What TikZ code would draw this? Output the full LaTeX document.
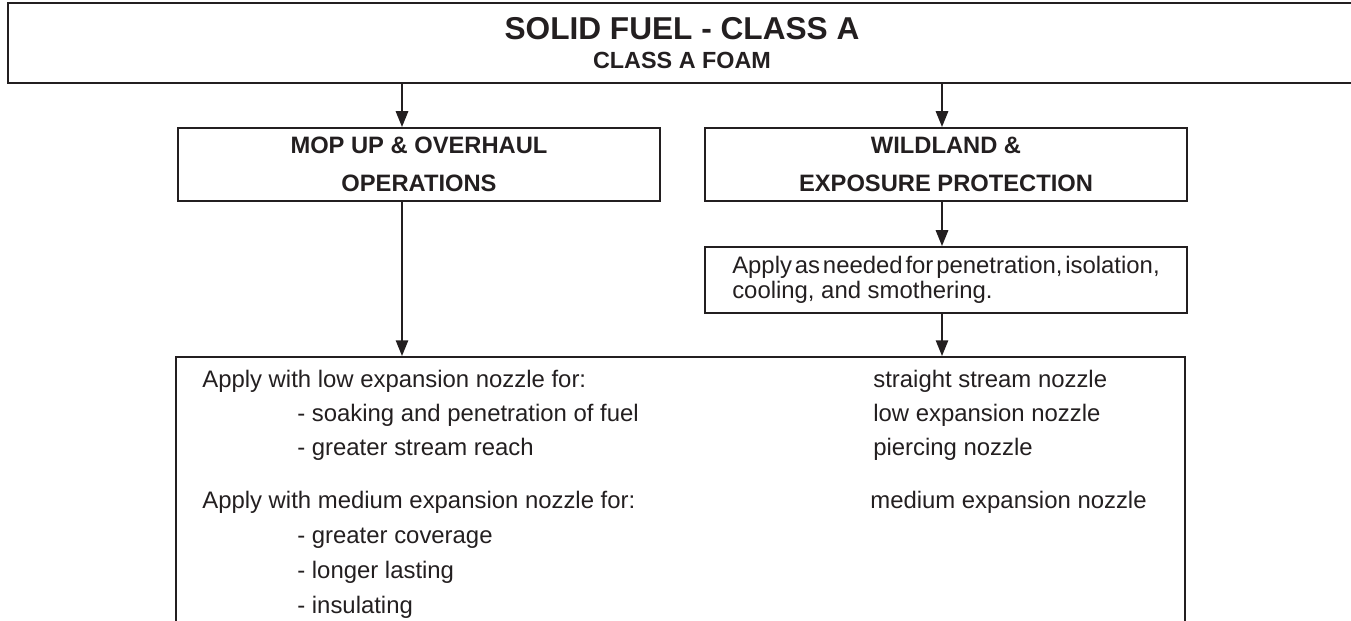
\documentclass[tikz,border=0pt]{standalone}
\usepackage{fontspec}
\setmainfont{Liberation Sans}
\usetikzlibrary{arrows.meta}
\definecolor{ink}{HTML}{231F20}

\begin{document}
\begin{tikzpicture}
[x=0.02cm,y=-0.02cm,
  boxDecorate/.style={shape=rectangle,draw=ink,line width=1.1pt,inner sep=0pt,text=ink},
  arrowDecorate/.style={-{Triangle[width=7pt,length=9pt]},draw=ink,fill=ink,line width=1.1pt},
  headDecorate/.style={font=\fontsize{13.5}{21.6}\selectfont\bfseries,align=center},
  textDecorate/.style={font=\fontsize{13.6}{16}\selectfont,text=ink,inner sep=0pt,anchor=base west}]
\useasboundingbox (0,0) rectangle (1351,621);
\clip (0,0) rectangle (1351,621);
%% boxes
\node (title) at (682,43) [boxDecorate,minimum width=26.96cm,minimum height=1.6cm,
  align=center,font=\fontsize{13.3}{15.8}\selectfont\bfseries]
  {{\fontsize{18}{15.8}\selectfont SOLID FUEL - CLASS A}\\[1pt]CLASS A FOAM};
\node (mop) at (419,164.5) [boxDecorate,headDecorate,minimum width=9.64cm,minimum height=1.46cm]
  {MOP UP \& OVERHAUL\\OPERATIONS};
\node (wild) at (946,164.5) [boxDecorate,headDecorate,minimum width=9.64cm,minimum height=1.46cm]
  {WILDLAND \&\\EXPOSURE PROTECTION};
\node (apply) at (946,280) [boxDecorate,minimum width=9.64cm,minimum height=1.32cm,
  align=left,font=\fontsize{13.6}{14.4}\selectfont]
  {{\spaceskip=0.12em Apply as needed for penetration, isolation,}\\cooling, and smothering.};
\node (big) at (680.5,508.5) [boxDecorate,minimum width=20.18cm,minimum height=6.06cm] {};
%% texts in the big box
\foreach \name/\x/\y/\txt in {
  a1/202/387/Apply with low expansion nozzle for:,
  a2/297/421/- soaking and penetration of fuel,
  a3/297/455/- greater stream reach,
  a4/202/508/Apply with medium expansion nozzle for:,
  a5/297/543/- greater coverage,
  a6/297/578/- longer lasting,
  a7/297/613/- insulating,
  b1/873/387/straight stream nozzle,
  b2/873/421/low expansion nozzle,
  b3/873/455/piercing nozzle,
  b4/870/508/medium expansion nozzle}
{
  \node (\name) at (\x,\y) [textDecorate] {\txt};
}
%% arrows
\coordinate (leftLine) at (402,0);
\coordinate (rightLine) at (942,0);
\foreach \col/\startnode/\endnode in {
  leftLine/title/mop, leftLine/mop/big,
  rightLine/title/wild, rightLine/wild/apply, rightLine/apply/big}
{
  \draw[arrowDecorate] (\col |- \startnode.south) -- (\col |- \endnode.north);
}
\end{tikzpicture}
\end{document}
